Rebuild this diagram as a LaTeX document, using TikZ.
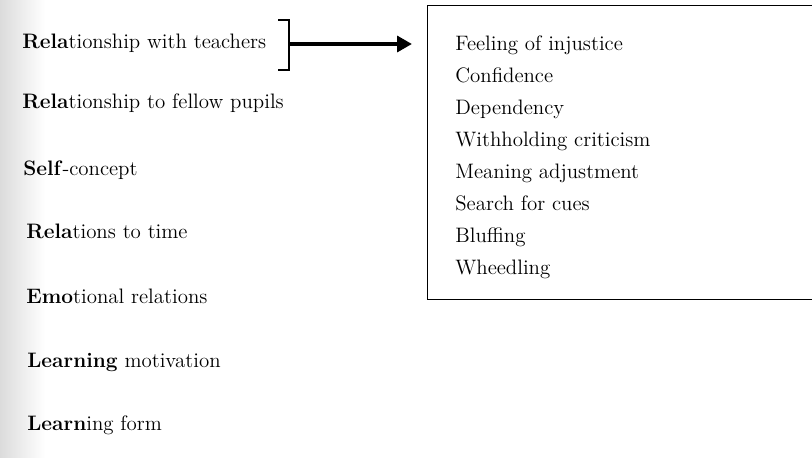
\documentclass[tikz,border=0pt]{standalone}
\usetikzlibrary{arrows.meta,positioning}
\newcommand{\hd}[2]{\textbf{#1}#2}
\begin{document}
\begin{tikzpicture}[x=0.02cm,y=-0.02cm,
  every node/.style={font=\fontsize{11.9}{14}\selectfont, inner sep=0pt},
  item/.style={anchor=base west}]
  \useasboundingbox (0,0) rectangle (812,457);
  \shade[left color=black!14, right color=white] (0,0) rectangle (45,457);
  % left column
  \node[item] (teach) at (22,48)  {\hd{Rela}{tionship with teachers}};
  \node[item] (pupil) at (22,108) {\hd{Rela}{tionship to fellow pupils}};
  \node[item] (self)  at (23,175) {\hd{Self}{-concept}};
  \node[item] (time)  at (26,238) {\hd{Rela}{tions to time}};
  \node[item] (emot)  at (26,303) {\hd{Emo}{tional relations}};
  \node[item] (motiv) at (27,367) {\hd{Learning}{ motivation}};
  \node[item] (form)  at (27,430) {\hd{Learn}{ing form}};
  % bracket and arrow
  \draw[line width=0.85pt] (278,20) -- (289,20) -- (289,70) -- (278,70);
  \coordinate (brk) at (289,44);
  \node[draw, line width=0.8pt, anchor=north west, minimum width=8.2cm, minimum height=5.88cm] (box) at (427,5) {};
  \draw[line width=2.3pt, -{Triangle[length=8.5pt,width=9pt]}] (brk) -- ([xshift=-0.3cm]box.west |- brk);
  % right list
  \foreach \t [count=\i from 0] in {Feeling of injustice, Confidence, Dependency,
      Withholding criticism, Meaning adjustment, Search for cues, Bluffing, Wheedling}
    \node[item] (r\i) at (455,50+32.14*\i) {\t};
\end{tikzpicture}
\end{document}
